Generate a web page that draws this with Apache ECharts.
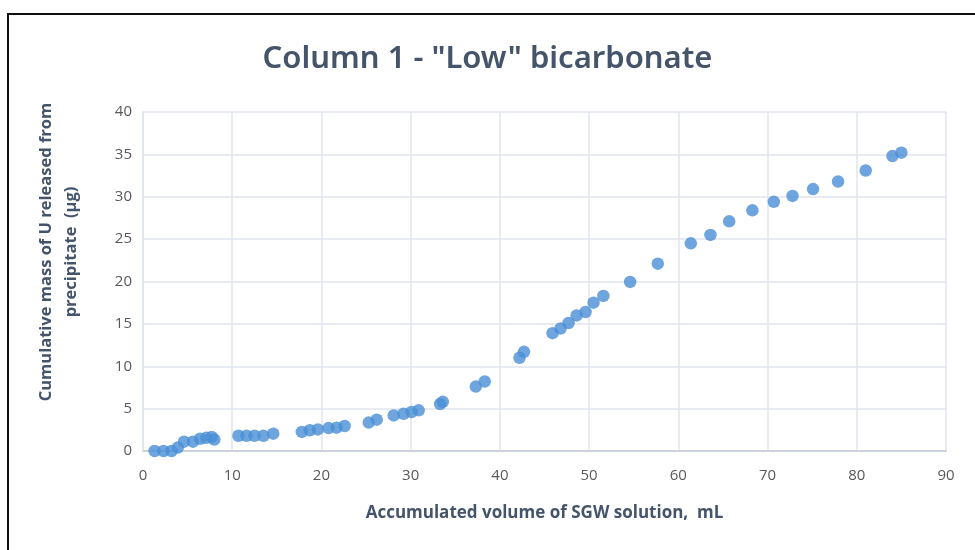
<!DOCTYPE html>
<html>
<head>
<meta charset="utf-8">
<script src="https://cdn.jsdelivr.net/npm/echarts@6/dist/echarts.min.js"></script>
<style>
  html, body { margin: 0; padding: 0; background: #fff; }
  #chart { width: 975px; height: 550px; }
</style>
</head>
<body>
<div id="chart"></div>
<script>
// Accumulated volume of SGW solution (mL)
const volume = [
  1.3, 2.3, 3.2, 3.9, 4.6, 5.6, 6.4, 7.1, 7.7, 8.0,
  10.7, 11.6, 12.5, 13.5, 14.6,
  17.8, 18.7, 19.6, 20.8, 21.7, 22.6,
  25.3, 26.2, 28.1, 29.2, 30.1, 30.9, 33.3, 33.6,
  37.3, 38.3, 42.2, 42.7,
  45.9, 46.8, 47.7, 48.6, 49.6, 50.5, 51.6,
  54.6, 57.7, 61.4, 63.6, 65.7, 68.3, 70.7, 72.8, 75.1, 77.9, 81.0, 84.0, 85.0
];
// Cumulative mass of U released from precipitate (µg)
const massU = [
  0.0, 0.0, 0.0, 0.4, 1.1, 1.1, 1.45, 1.55, 1.65, 1.35,
  1.8, 1.8, 1.8, 1.8, 2.05,
  2.25, 2.45, 2.55, 2.7, 2.75, 2.95,
  3.35, 3.7, 4.2, 4.4, 4.6, 4.8, 5.55, 5.8,
  7.6, 8.2, 11.0, 11.7,
  13.9, 14.45, 15.1, 16.0, 16.4, 17.5, 18.3,
  19.95, 22.1, 24.5, 25.5, 27.1, 28.4, 29.4, 30.1, 30.9, 31.8, 33.1, 34.8, 35.2
];
const xTicks = { min: 0, max: 90, interval: 10 };
const yTicks = { min: 0, max: 40, interval: 5 };

const points = volume.map((v, i) => [v, massU[i]]);

const chart = echarts.init(document.getElementById('chart'), null, { renderer: 'canvas' });
const labelFont = '"Open Sans", "Noto Sans", sans-serif';
const boldFont = '"Open Sans", "Noto Sans", sans-serif';

chart.setOption({
  animation: false,
  backgroundColor: '#ffffff',
  title: {
    text: 'Column 1 - "Low" bicarbonate',
    left: 'center',
    top: 39,
    textStyle: {
      fontFamily: '"Noto Sans", sans-serif',
      fontSize: 31,
      fontWeight: 600,
      color: '#44546a'
    }
  },
  grid: { left: 143, right: 29, top: 112, bottom: 99 },
  xAxis: {
    type: 'value',
    min: xTicks.min, max: xTicks.max, interval: xTicks.interval,
    name: 'Accumulated volume of SGW solution,  mL',
    nameLocation: 'middle',
    nameGap: 54,
    nameTextStyle: { fontFamily: boldFont, fontSize: 17, fontWeight: 'bold', color: '#44546a' },
    axisLine: { show: true, lineStyle: { color: '#c3c9d6', width: 1.5 } },
    axisTick: { show: false },
    axisLabel: { fontFamily: labelFont, fontSize: 15, color: '#595959', margin: 17 },
    splitLine: { show: true, lineStyle: { color: '#e1e4ec', width: 1.5 } }
  },
  yAxis: {
    type: 'value',
    min: yTicks.min, max: yTicks.max, interval: yTicks.interval,
    axisLine: { show: true, lineStyle: { color: '#e1e4ec', width: 1.5 } },
    axisTick: { show: false },
    axisLabel: { fontFamily: labelFont, fontSize: 15, color: '#595959', margin: 11 },
    splitLine: { show: true, lineStyle: { color: '#e1e4ec', width: 1.5 } }
  },
  graphic: [
    {
      type: 'polyline',
      shape: { points: [[8, 560], [8, 14], [985, 14]] },
      style: { stroke: '#111', lineWidth: 2, fill: null },
      silent: true
    },
    {
      type: 'text',
      x: 59, y: 252,
      rotation: Math.PI / 2,
      style: {
        text: 'Cumulative mass of U released from\nprecipitate  (µg)',
        fontFamily: boldFont,
        fontSize: 16.5,
        fontWeight: 'bold',
        fill: '#44546a',
        align: 'center',
        verticalAlign: 'middle',
        lineHeight: 25
      }
    }
  ],
  series: [{
    type: 'scatter',
    data: points,
    symbol: 'circle',
    symbolSize: 12.5,
    itemStyle: { color: '#4a8fd6' }
  }]
});
</script>
</body>
</html>
